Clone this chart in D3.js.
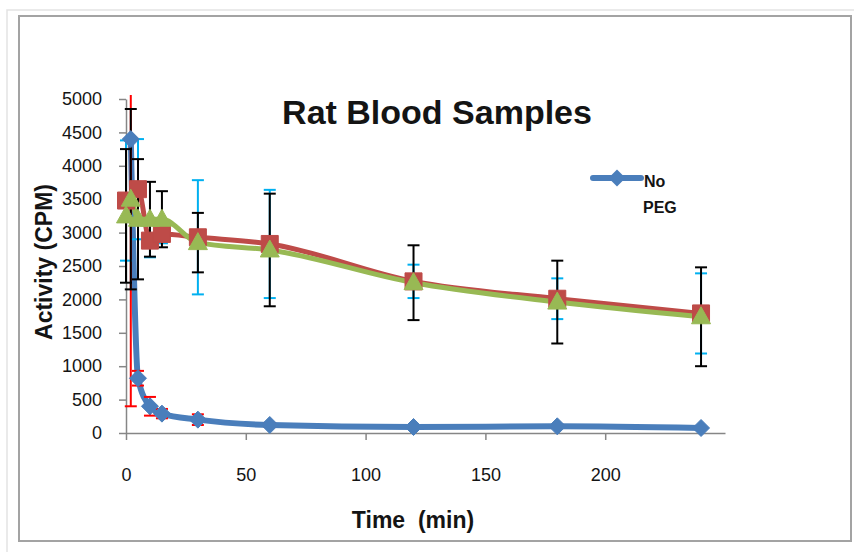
<!DOCTYPE html>
<html>
<head>
<meta charset="utf-8">
<script src="https://cdn.jsdelivr.net/npm/d3@7"></script>
<style>
  body { margin: 0; background: #fff; }
  svg { display: block; }
  text { font-family: "Liberation Sans", Arial, sans-serif; fill: #141414; }
</style>
</head>
<body>
<svg id="chart" width="854" height="552"></svg>
<script>
// values
const timesNoPeg = [2, 5, 10, 15, 30, 60, 120, 180, 240];
const noPeg      = [4400, 820, 400, 290, 200, 120, 90, 100, 75];
const noPegErr   = [4000, 110, 140, 70, 80, 30, 20, 20, 15];

const timesRed = [0, 5, 10, 15, 30, 60, 120, 180, 240];
const redVals  = [3480, 3650, 2880, 2980, 2930, 2830, 2270, 2010, 1790];
const redErr   = [900, 750, 250, 140, 855, 810, 250, 305, 600];

const timesGreen = [0, 2, 5, 10, 15, 30, 60, 120, 180, 240];
const greenVals  = [3250, 3500, 3200, 3200, 3200, 2850, 2740, 2250, 1960, 1740];
const greenErr   = [1000, 1350, 900, 560, 420, 445, 843, 560, 620, 740];

const xTicks = [0, 50, 100, 150, 200];
const yTicks = [0, 500, 1000, 1500, 2000, 2500, 3000, 3500, 4000, 4500, 5000];

const svg = d3.select("#chart");

// frame
svg.append("rect").attr("x", 7).attr("y", 10).attr("width", 900).attr("height", 600)
  .attr("fill", "none").attr("stroke", "#e3e3e3").attr("stroke-width", 1.5);
svg.append("rect").attr("x", 19).attr("y", 16).attr("width", 832).attr("height", 525)
  .attr("fill", "#fff").attr("stroke", "#a3a3a3").attr("stroke-width", 2);

const x = d3.scaleLinear().domain([0, 250]).range([126, 725]);
const y = d3.scaleLinear().domain([0, 5000]).range([433, 99]);

// axes
const gx = svg.append("g").attr("transform", "translate(0,433)")
  .call(d3.axisBottom(x).tickValues(xTicks).tickFormat(d3.format("d"))
    .tickSize(7).tickSizeOuter(0).tickPadding(28));
const gy = svg.append("g").attr("transform", "translate(126,0)")
  .call(d3.axisLeft(y).tickValues(yTicks).tickFormat(d3.format("d"))
    .tickSize(7).tickSizeOuter(0).tickPadding(17));
[gx, gy].forEach(g => {
  g.select(".domain").attr("stroke", "#868686").attr("stroke-width", 1.5);
  g.selectAll(".tick line").attr("stroke", "#868686").attr("stroke-width", 1.5);
  g.selectAll(".tick text").attr("font-size", 18).attr("fill", "#141428")
    .style("font-family", "'Liberation Sans', Arial, sans-serif");
});

svg.append("defs").append("clipPath").attr("id", "plot")
  .append("rect").attr("x", 100).attr("y", 95).attr("width", 640).attr("height", 345);

const series = [
  { name: "No PEG", t: timesNoPeg, v: noPeg, e: noPegErr, color: "#4a7ebb", width: 6, errColor: "#ff0000", marker: "diamond" },
  { name: "PEG 1", t: timesRed, v: redVals, e: redErr, color: "#be4b48", width: 5, errColor: "#00b0f0", marker: "square" },
  { name: "PEG 2", t: timesGreen, v: greenVals, e: greenErr, color: "#98b954", width: 5, errColor: "#000000", marker: "triangle" }
];
series.forEach(s => { s.data = s.t.map((t, i) => ({ t, v: s.v[i], e: s.e[i] })); });

const markerPath = {
  diamond: "M0,-8.5L8.5,0L0,8.5L-8.5,0Z",
  square: "M-8.5,-8.5H8.5V8.5H-8.5Z",
  triangle: "M0,-10L9.5,7L-9.5,7Z"
};

const line = d3.line().x(d => x(d.t)).y(d => y(d.v)).curve(d3.curveMonotoneX);

const plot = svg.append("g").attr("clip-path", "url(#plot)");

// lines
series.forEach(s => {
  plot.append("path").datum(s.data).attr("d", line)
    .attr("fill", "none").attr("stroke", s.color).attr("stroke-width", s.width)
    .attr("stroke-linejoin", "round").attr("stroke-linecap", "round");
});

// error bars
series.forEach(s => {
  const g = plot.append("g").attr("stroke", s.errColor).attr("stroke-width", 2);
  g.selectAll("line.bar").data(s.data).join("line").attr("class", "bar")
    .attr("x1", d => x(d.t)).attr("x2", d => x(d.t))
    .attr("y1", d => y(d.v + d.e)).attr("y2", d => y(Math.max(0, d.v - d.e)));
  g.selectAll("line.top").data(s.data).join("line").attr("class", "top")
    .attr("x1", d => x(d.t) - 6).attr("x2", d => x(d.t) + 6)
    .attr("y1", d => y(d.v + d.e)).attr("y2", d => y(d.v + d.e));
  g.selectAll("line.bot").data(s.data).join("line").attr("class", "bot")
    .attr("x1", d => x(d.t) - 6).attr("x2", d => x(d.t) + 6)
    .attr("y1", d => y(Math.max(0, d.v - d.e))).attr("y2", d => y(Math.max(0, d.v - d.e)));
});

// markers
series.forEach(s => {
  plot.append("g").selectAll("path").data(s.data).join("path")
    .attr("d", markerPath[s.marker])
    .attr("transform", d => `translate(${x(d.t)},${y(d.v)})`)
    .attr("fill", s.color).attr("stroke", s.color).attr("stroke-width", 1);
});

// title and axis titles
svg.append("text").attr("x", 437).attr("y", 124).attr("text-anchor", "middle")
  .attr("font-size", 34).attr("font-weight", "bold").text("Rat Blood Samples");
svg.append("text").attr("x", 413).attr("y", 528).attr("text-anchor", "middle")
  .attr("font-size", 23).attr("font-weight", "bold").attr("xml:space", "preserve").text("Time  (min)");
svg.append("text").attr("transform", "translate(52,262) rotate(-90)").attr("text-anchor", "middle")
  .attr("font-size", 23).attr("font-weight", "bold").text("Activity (CPM)");

// legend (only the first series fits)
const leg = svg.append("g");
leg.append("line").attr("x1", 593).attr("x2", 641).attr("y1", 178).attr("y2", 178)
  .attr("stroke", series[0].color).attr("stroke-width", 6).attr("stroke-linecap", "round");
leg.append("path").attr("d", markerPath.diamond).attr("transform", "translate(617,178)")
  .attr("fill", series[0].color);
leg.append("text").attr("x", 644).attr("y", 187).attr("font-size", 16).attr("font-weight", "bold").text("No");
leg.append("text").attr("x", 643).attr("y", 213).attr("font-size", 16).attr("font-weight", "bold").text("PEG");
</script>
</body>
</html>
